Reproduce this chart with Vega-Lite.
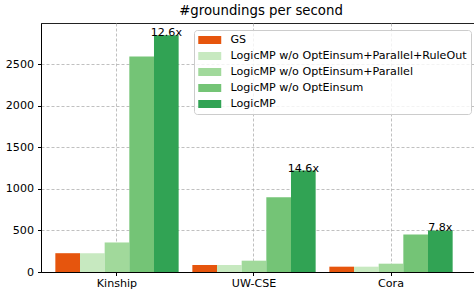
{
  "$schema": "https://vega.github.io/schema/vega-lite/v6.json",
  "autosize": "none",
  "padding": {"left": 41, "top": 23, "right": 0, "bottom": 19},
  "width": 440,
  "height": 249,
  "background": "white",
  "title": {"text": "#groundings per second", "fontSize": 13.3, "font": "DejaVu Sans", "fontWeight": "normal", "color": "#000", "offset": 6, "anchor": "middle", "frame": "group"},
  "config": {
    "font": "DejaVu Sans",
    "view": {"stroke": "#222", "strokeWidth": 1},
    "axis": {"labelFont": "DejaVu Sans", "labelFontSize": 11.1, "labelColor": "#000", "tickColor": "#000", "domainColor": "#000", "gridColor": "#b0b0b0", "gridDash": [3, 2], "gridWidth": 0.8, "tickSize": 3.5}
  },
  "data": {"values": [
    {"dataset": "Kinship", "method": "GS", "value": 226},
    {"dataset": "Kinship", "method": "LogicMP w/o OptEinsum+Parallel+RuleOut", "value": 226},
    {"dataset": "Kinship", "method": "LogicMP w/o OptEinsum+Parallel", "value": 355},
    {"dataset": "Kinship", "method": "LogicMP w/o OptEinsum", "value": 2590},
    {"dataset": "Kinship", "method": "LogicMP", "value": 2845, "label": "12.6x"},
    {"dataset": "UW-CSE", "method": "GS", "value": 84},
    {"dataset": "UW-CSE", "method": "LogicMP w/o OptEinsum+Parallel+RuleOut", "value": 84},
    {"dataset": "UW-CSE", "method": "LogicMP w/o OptEinsum+Parallel", "value": 136},
    {"dataset": "UW-CSE", "method": "LogicMP w/o OptEinsum", "value": 900},
    {"dataset": "UW-CSE", "method": "LogicMP", "value": 1220, "label": "14.6x"},
    {"dataset": "Cora", "method": "GS", "value": 64},
    {"dataset": "Cora", "method": "LogicMP w/o OptEinsum+Parallel+RuleOut", "value": 64},
    {"dataset": "Cora", "method": "LogicMP w/o OptEinsum+Parallel", "value": 100},
    {"dataset": "Cora", "method": "LogicMP w/o OptEinsum", "value": 452},
    {"dataset": "Cora", "method": "LogicMP", "value": 500, "label": "7.8x"}
  ]},
  "encoding": {
    "x": {"field": "dataset", "type": "nominal", "sort": ["Kinship", "UW-CSE", "Cora"],
      "scale": {"paddingInner": 0.1, "paddingOuter": 0.1558, "align": 0.336},
      "axis": {"title": null, "labelAngle": 0, "grid": true, "labelPadding": 2}},
    "xOffset": {"field": "method", "type": "nominal", "sort": ["GS", "LogicMP w/o OptEinsum+Parallel+RuleOut", "LogicMP w/o OptEinsum+Parallel", "LogicMP w/o OptEinsum", "LogicMP"], "scale": {"paddingInner": 0, "paddingOuter": 0}},
    "y": {"field": "value", "type": "quantitative", "scale": {"domain": [0, 2993], "nice": false},
      "axis": {"title": null, "values": [0, 500, 1000, 1500, 2000, 2500], "format": "d", "grid": true, "labelPadding": 4}}
  },
  "layer": [
    {
      "mark": {"type": "bar"},
      "encoding": {
        "color": {"field": "method", "type": "nominal",
          "sort": ["GS", "LogicMP w/o OptEinsum+Parallel+RuleOut", "LogicMP w/o OptEinsum+Parallel", "LogicMP w/o OptEinsum", "LogicMP"],
          "scale": {"domain": ["GS", "LogicMP w/o OptEinsum+Parallel+RuleOut", "LogicMP w/o OptEinsum+Parallel", "LogicMP w/o OptEinsum", "LogicMP"],
                    "range": ["#e6550d", "#c7e9c0", "#a1d99b", "#74c476", "#31a354"]},
          "legend": {"title": null, "orient": "none", "legendX": 153, "legendY": 7,
            "symbolType": "M-1,-0.7H3V0.7H-1Z", "symbolSize": 132, "symbolStrokeWidth": 0,
            "labelFontSize": 11.1, "labelColor": "#000", "labelFont": "DejaVu Sans", "labelOffset": 20.5,
            "rowPadding": 4, "padding": 4, "fillColor": "rgba(255,255,255,0.8)", "strokeColor": "#cccccc", "cornerRadius": 3, "labelLimit": 400}}
      }
    },
    {
      "transform": [{"filter": "datum.label"}],
      "mark": {"type": "text", "baseline": "alphabetic", "fontSize": 11.1, "dy": 1, "color": "#000"},
      "encoding": {"text": {"field": "label"}}
    }
  ]
}
